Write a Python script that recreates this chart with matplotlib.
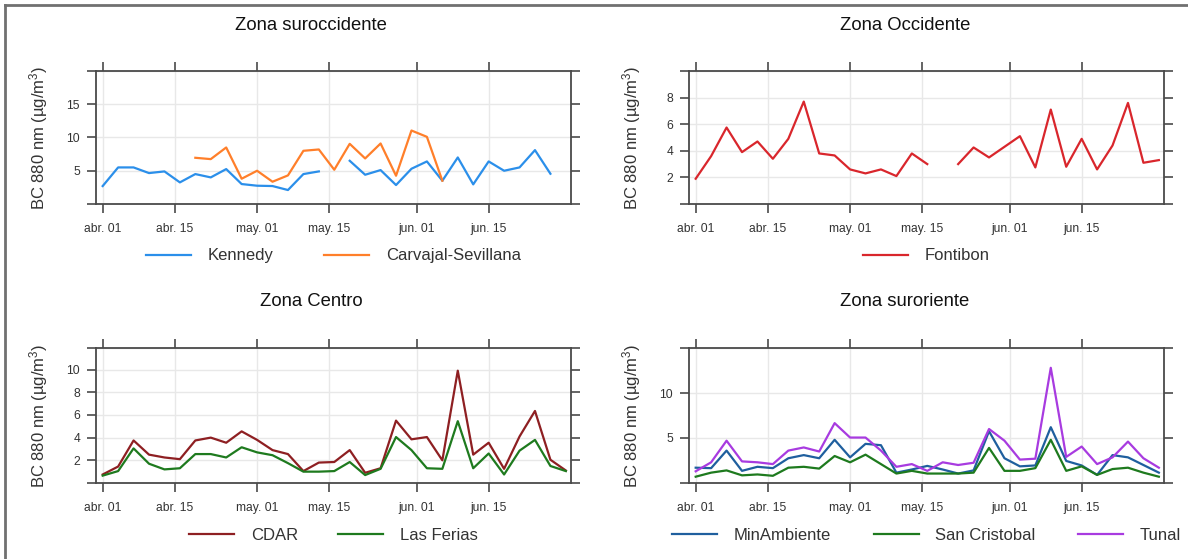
import numpy as np
import pandas as pd
import matplotlib
matplotlib.use('Agg')
import matplotlib.pyplot as plt
from matplotlib.lines import Line2D

plt.rcParams['font.family'] = ['Liberation Sans', 'DejaVu Sans']
plt.rcParams['mathtext.fontset'] = 'custom'
plt.rcParams['mathtext.rm'] = 'Liberation Sans'
plt.rcParams['mathtext.it'] = 'Liberation Sans:italic'

nan = np.nan
# 3-day means, abr 01 .. jun 30
fechas = pd.date_range('2021-04-01', periods=31, freq='3D')

kennedy = [2.7, 5.5, 5.5, 4.65, 4.9, 3.25, 4.5, 4.0, 5.25, 3.0, 2.75, 2.7, 2.1, 4.5, 4.9, nan,
           6.5, 4.4, 5.1, 2.85, 5.3, 6.4, 3.5, 7.0, 2.95, 6.4, 5.0, 5.5, 8.1, 4.55, nan]
carvajal = [nan, nan, nan, nan, nan, nan, 6.95, 6.75, 8.5, 3.8, 5.0, 3.35, 4.3, 8.0, 8.2, 5.15,
            9.05, 6.85, 9.1, 4.25, 11.05, 10.1, 3.5, nan, nan, nan, nan, nan, nan, nan, nan]
fontibon = [1.9, 3.6, 5.75, 3.9, 4.7, 3.4, 4.9, 7.7, 3.8, 3.65, 2.6, 2.3, 2.6, 2.1, 3.8, 3.0,
            nan, 3.0, 4.25, 3.5, 4.3, 5.1, 2.75, 7.1, 2.8, 4.9, 2.6, 4.4, 7.6, 3.1, 3.3]
cdar = [0.75, 1.45, 3.75, 2.5, 2.25, 2.1, 3.75, 4.0, 3.55, 4.55, 3.8, 2.9, 2.55, 1.05, 1.8, 1.85,
        2.9, 0.9, 1.3, 5.5, 3.85, 4.05, 2.0, 9.9, 2.5, 3.55, 1.25, 4.1, 6.35, 2.05, 1.1]
las_ferias = [0.65, 1.05, 3.05, 1.7, 1.2, 1.3, 2.55, 2.55, 2.25, 3.15, 2.7, 2.45, 1.75, 1.0, 1.0, 1.05,
              1.85, 0.7, 1.25, 4.05, 2.9, 1.3, 1.25, 5.45, 1.3, 2.6, 0.75, 2.85, 3.8, 1.5, 1.05]
minambiente = [1.7, 1.65, 3.6, 1.35, 1.8, 1.65, 2.75, 3.1, 2.75, 4.8, 2.85, 4.35, 4.2, 1.15, 1.5, 1.9,
               1.5, 1.05, 1.4, 5.75, 2.75, 1.85, 1.95, 6.2, 2.45, 1.95, 0.9, 3.1, 2.85, 2.0, 1.15]
san_cristobal = [0.7, 1.15, 1.4, 0.85, 0.95, 0.8, 1.7, 1.8, 1.6, 3.0, 2.3, 3.15, 2.1, 1.05, 1.35, 1.05,
                 1.05, 1.05, 1.15, 3.9, 1.35, 1.35, 1.65, 4.8, 1.35, 1.85, 0.9, 1.55, 1.7, 1.15, 0.7]
tunal = [1.3, 2.3, 4.7, 2.4, 2.3, 2.1, 3.6, 3.95, 3.5, 6.65, 5.05, 5.05, 3.6, 1.8, 2.1, 1.35,
         2.3, 2.0, 2.25, 6.0, 4.7, 2.6, 2.7, 12.8, 2.9, 4.05, 2.1, 2.85, 4.6, 2.75, 1.7]

tick_fechas = pd.to_datetime(['2021-04-01', '2021-04-15', '2021-05-01', '2021-05-15', '2021-06-01', '2021-06-15'])
tick_labels = ['abr. 01', 'abr. 15', 'may. 01', 'may. 15', 'jun. 01', 'jun. 15']

W, H = 1188, 559
fig = plt.figure(figsize=(W / 100, H / 100), dpi=100)

def add_ax(x0, y0, x1, y1):
    return fig.add_axes([x0 / W, 1 - y1 / H, (x1 - x0) / W, (y1 - y0) / H])

ylab = 'BC 880 nm (µg/m$^{3}$)'
box_col = '#4a4a4a'
txt_col = '#333333'

def panel(ax, series, ylim, step, title, tx, ty, colspace):
    for vals, name, col in series:
        ax.plot(fechas, vals, color=col, lw=1.6, label=name)
    ax.set_xlim(fechas[0] - pd.Timedelta(days=1.3), fechas[0] + pd.Timedelta(days=91))
    ax.set_ylim(*ylim)
    yt = list(np.arange(0, ylim[1] + 0.01, step))
    if yt[-1] < ylim[1]:
        yt.append(ylim[1])
    ylbls = ['' if (v == 0 or v == ylim[1]) else '%g' % v for v in yt]
    ax.set_yticks(yt, ylbls)
    ax.set_xticks(tick_fechas, tick_labels)
    ax.grid(True, color='#e8e8e8', lw=1.0)
    ax.set_axisbelow(True)
    for s in ax.spines.values():
        s.set_color(box_col)
        s.set_linewidth(1.3)
    ax.tick_params(direction='out', length=6.5, width=1.2, color=box_col,
                   top=True, right=True, labelsize=8.7, labelcolor=txt_col)
    ax.tick_params(axis='x', pad=7)
    ax.tick_params(axis='y', pad=5)
    ax.set_ylabel(ylab, fontsize=12, color=txt_col)
    ax.yaxis.set_label_coords(-46 / 475, 0.5)
    ax.legend(loc='center', bbox_to_anchor=(0.5, -52 / 133), ncol=len(series), frameon=False,
              fontsize=12, handlelength=2.7, handletextpad=1.0, columnspacing=colspace,
              labelcolor=txt_col)
    fig.text(tx / W, 1 - ty / H, title, ha='center', va='center', fontsize=13.3, color='#111111')

ax1 = add_ax(96, 71, 571, 204)
panel(ax1, [(kennedy, 'Kennedy', '#2B8FEA'), (carvajal, 'Carvajal-Sevillana', '#FF7F2A')],
      (0, 20), 5, 'Zona suroccidente', 311, 25, 3.05)

ax2 = add_ax(689, 71, 1164, 204)
panel(ax2, [(fontibon, 'Fontibon', '#D9262C')], (0, 10), 2, 'Zona Occidente', 905, 25, 3.0)

ax3 = add_ax(96, 348, 571, 483)
panel(ax3, [(cdar, 'CDAR', '#8E1F22'), (las_ferias, 'Las Ferias', '#1E7A1E')],
      (0, 11.9), 2, 'Zona Centro', 311, 301, 2.4)

ax4 = add_ax(689, 348, 1164, 483)
panel(ax4, [(minambiente, 'MinAmbiente', '#1F5F9E'), (san_cristobal, 'San Cristobal', '#1E7A1E'),
            (tunal, 'Tunal', '#A83BE0')], (0, 15), 5, 'Zona suroriente', 905, 301, 2.55)

# marco de la captura
fig.add_artist(Line2D([4.5 / W, 4.5 / W], [0, 1 - 5 / H], color='#707070', lw=2))
fig.add_artist(Line2D([4.5 / W, 1], [1 - 5 / H, 1 - 5 / H], color='#707070', lw=2))

fig.savefig('out.png', dpi=100)
